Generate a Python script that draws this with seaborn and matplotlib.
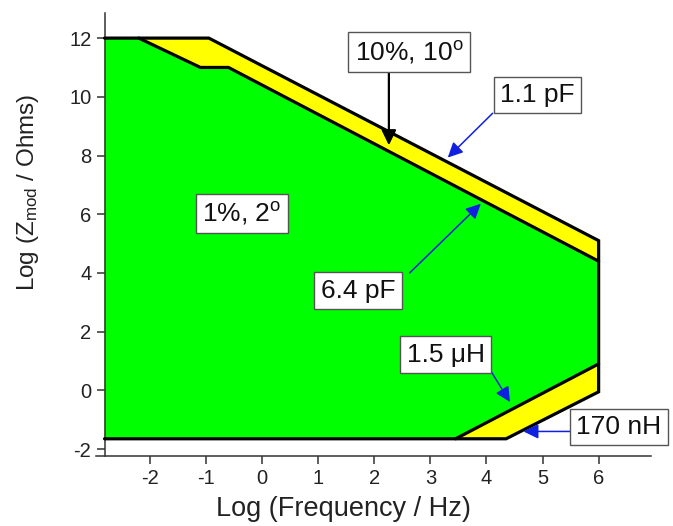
import matplotlib
matplotlib.use("Agg")
import matplotlib.pyplot as plt
import seaborn as sns
import pandas as pd

# ---- data ----
x_ticks = [-2, -1, 0, 1, 2, 3, 4, 5, 6]
y_ticks = [-2, 0, 2, 4, 6, 8, 10, 12]

# 1 %, 2 deg region (green)
green_x = [-2.81, -2.2, -1.1, -0.6, 6.0, 6.0, 3.45, -2.81]
green_y = [12.0, 12.0, 11.0, 11.0, 4.4, 0.9, -1.65, -1.65]
# 10 %, 10 deg extension, capacitive side (yellow)
cap_x = [-2.2, -0.95, 6.0, 6.0, -0.6, -1.1]
cap_y = [12.0, 12.0, 5.1, 4.4, 11.0, 11.0]
# 10 %, 10 deg extension, inductive side (yellow)
ind_x = [3.45, 4.35, 6.0, 6.0]
ind_y = [-1.65, -1.65, -0.05, 0.9]
# outlines
outer_x = [-2.81, -0.95, 6.0, 6.0, 4.35, -2.81]
outer_y = [12.0, 12.0, 5.1, -0.05, -1.65, -1.65]
inner_cap_x = [-2.2, -1.1, -0.6, 6.0]
inner_cap_y = [12.0, 11.0, 11.0, 4.4]
inner_ind_x = [3.45, 6.0]
inner_ind_y = [-1.65, 0.9]

labels = ["10%, 10$^{\\mathregular{o}}$", "1.1 pF", "1%, 2$^{\\mathregular{o}}$",
          "6.4 pF", "1.5 \u03bcH", "170 nH"]
label_x = [2.62, 4.91, -0.36, 1.71, 3.27, 6.36]
label_y = [11.52, 10.06, 6.02, 3.40, 1.21, -1.25]

sns.set_theme(style="ticks")
plt.rcParams["font.family"] = ["Liberation Sans", "DejaVu Sans"]
plt.rcParams["mathtext.default"] = "regular"

fig = plt.figure(figsize=(6.73, 5.26), dpi=100)
ax = fig.add_axes([0.142, 0.134, 0.825, 0.841])

GREEN = "#00ff00"
YELLOW = "#ffff00"
BLUE = "#1020e0"

ax.fill(green_x, green_y, color=GREEN, lw=0, zorder=1)
ax.fill(cap_x, cap_y, color=YELLOW, lw=0, zorder=1)
ax.fill(ind_x, ind_y, color=YELLOW, lw=0, zorder=1)

for xs, ys in [(outer_x, outer_y), (inner_cap_x, inner_cap_y), (inner_ind_x, inner_ind_y)]:
    df = pd.DataFrame({"x": xs, "y": ys})
    sns.lineplot(data=df, x="x", y="y", sort=False, estimator=None, color="black",
                 lw=2.3, ax=ax, zorder=3, solid_joinstyle="miter")

# arrows
arrows = [((2.26, 10.84), (2.26, 8.35), "black", 1.6),
          ((4.11, 9.44), (3.31, 7.93), BLUE, 1.1),
          ((2.63, 4.0), (3.90, 6.36), BLUE, 1.1),
          ((4.09, 0.62), (4.42, -0.40), BLUE, 1.1),
          ((5.54, -1.40), (4.66, -1.40), BLUE, 1.1)]
for start, tip, col, lw in arrows:
    ax.annotate("", xy=tip, xytext=start,
                arrowprops=dict(arrowstyle="-|>,head_length=0.45,head_width=0.22",
                                color=col, lw=lw, shrinkA=0, shrinkB=0,
                                mutation_scale=20),
                zorder=4)

for t, x, y in zip(labels, label_x, label_y):
    ax.text(x, y, t, ha="center", va="center", fontsize=19, color="#111111",
            zorder=5, clip_on=False,
            bbox=dict(boxstyle="square,pad=0.24", fc="white", ec="#555555", lw=1.0))

ax.set_xlim(-2.97, 6.93)
ax.set_ylim(-2.22, 12.85)
ax.spines["left"].set_position(("data", -2.81))
ax.spines["top"].set_visible(False)
ax.spines["right"].set_visible(False)
for s in ["left", "bottom"]:
    ax.spines[s].set_color("#333333")
    ax.spines[s].set_linewidth(1.1)

ax.set_xticks(x_ticks)
ax.set_yticks(y_ticks)
ax.set_xticklabels([str(v) for v in x_ticks])
ax.set_yticklabels([str(v) for v in y_ticks])
ax.tick_params(direction="out", length=5.5, width=1.1, color="#333333",
               labelsize=14.5, labelcolor="#222222", pad=4)

ax.set_xlabel("Log (Frequency / Hz)", fontsize=19.5, color="#222222")
ax.set_ylabel("Log (Z$_{mod}$ / Ohms)", fontsize=17.5, color="#222222")
ax.xaxis.set_label_coords(0.447, -0.092)
ax.yaxis.set_label_coords(-0.098, 0.596)

fig.savefig("out.png", dpi=100)
